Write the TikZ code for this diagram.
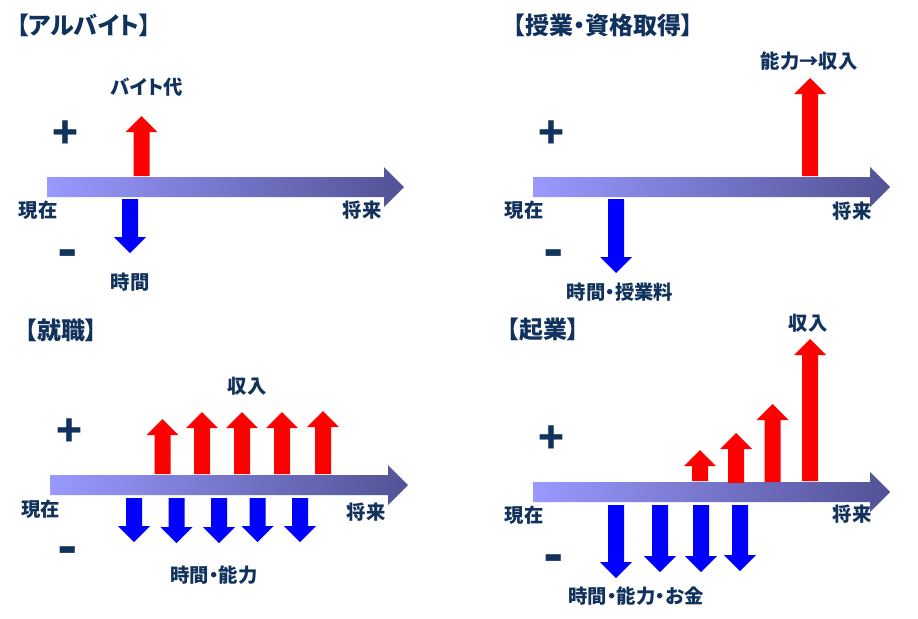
\documentclass[tikz,border=0pt]{standalone}
\usepackage{fontspec}
\setmainfont{Noto Sans CJK JP}[BoldFont={Noto Sans CJK JP Black},RawFeature=+palt]
\definecolor{navy}{RGB}{17,50,92}
\definecolor{axisL}{RGB}{153,153,255}
\definecolor{axisR}{RGB}{82,82,150}
\definecolor{upred}{RGB}{255,0,0}
\definecolor{dnblue}{RGB}{0,0,255}
\tikzset{
  lbl/.style={text=navy,font=\bfseries\fontsize{14.5}{16}\selectfont,inner sep=0pt},
  ttl/.style={text=navy,font=\bfseries\fontsize{18}{20}\selectfont,inner sep=0pt},
  sgn/.style={text=navy,font=\bfseries\fontsize{32}{34}\selectfont,inner sep=0pt},
  msgn/.style={text=navy,font=\bfseries\fontsize{40}{42}\selectfont,inner sep=0pt},
}
% main time axis arrow: x0, y centre, tip x
\newcommand\MainArr[3]{\shade[left color=axisL,right color=axisR]
  (#1,#2-10) -- (#3-20,#2-10) -- (#3-20,#2-20) -- (#3,#2) -- (#3-20,#2+20) -- (#3-20,#2+10) -- (#1,#2+10) -- cycle;}
% up arrow: centre x, bottom y, tip y
\newcommand\UpArr[3]{\fill[upred]
  (#1-8,#2) -- (#1-8,#3+16) -- (#1-16,#3+16) -- (#1,#3) -- (#1+16,#3+16) -- (#1+8,#3+16) -- (#1+8,#2) -- cycle;}
% down arrow: centre x, top y, tip y
\newcommand\DnArr[3]{\fill[dnblue]
  (#1-8,#2) -- (#1-8,#3-16) -- (#1-16,#3-16) -- (#1,#3) -- (#1+16,#3-16) -- (#1+8,#3-16) -- (#1+8,#2) -- cycle;}
\begin{document}
\begin{tikzpicture}[x=0.75pt,y=-0.75pt]
\useasboundingbox[fill=white] (0,0) rectangle (918,618);
% ---------- panel 1 ----------
\node[ttl] (t1) at (84,25) {【アルバイト】};
\MainArr{47}{187}{404}
\UpArr{141.5}{176}{116}
\DnArr{130}{199}{253}
\node[sgn] (p1) at (65,135) {+};
\node[msgn] (m1) at (68,259) {-};
\node[lbl] (a1) at (147,87) {バイト代};
\node[lbl] (n1) at (38,210) {現在};
\node[lbl] (f1) at (362,210) {将来};
\node[lbl] (b1) at (130,282) {時間};
% ---------- panel 2 ----------
\node[ttl] (t2) at (603,25) {【授業・資格取得】};
\MainArr{533}{187}{890}
\UpArr{810}{176}{78}
\DnArr{616}{199}{273}
\node[sgn] (p2) at (551,135) {+};
\node[msgn] (m2) at (554,259) {-};
\node[lbl] (a2) at (809,61) {能力→収入};
\node[lbl] (n2) at (524,210) {現在};
\node[lbl] (f2) at (852,211) {将来};
\node[lbl] (b2) at (620,292) {時間・授業料};
% ---------- panel 3 ----------
\node[ttl] (t3) at (61,330) {【就職】};
\MainArr{50}{485}{408}
\UpArr{162.5}{474}{419}
\UpArr{202}{474}{412}
\UpArr{242}{474}{412}
\UpArr{282}{474}{412}
\UpArr{323}{474}{411}
\DnArr{134}{498}{542}
\DnArr{176.5}{498}{543}
\DnArr{219}{498}{543}
\DnArr{257.5}{498}{542}
\DnArr{300}{498}{542}
\node[sgn] (p3) at (69,433) {+};
\node[msgn] (m3) at (68,556) {-};
\node[lbl] (a3) at (247,386) {収入};
\node[lbl] (n3) at (41,509) {現在};
\node[lbl] (f3) at (366,512) {将来};
\node[lbl] (b3) at (214,575) {時間・能力};
% ---------- panel 4 ----------
\node[ttl] (t4) at (543,330) {【起業】};
\MainArr{533}{492}{890}
\UpArr{700}{481}{450}
\UpArr{736}{483}{433}
\UpArr{772.5}{482}{404}
\UpArr{810}{481}{339}
\DnArr{616}{505}{578}
\DnArr{660}{505}{572}
\DnArr{701}{505}{572}
\DnArr{740}{505}{571}
\node[sgn] (p4) at (551,440) {+};
\node[msgn] (m4) at (554,564) {-};
\node[lbl] (a4) at (808,323) {収入};
\node[lbl] (n4) at (524,515) {現在};
\node[lbl] (f4) at (852,514) {将来};
\node[lbl] (b4) at (636,596) {時間・能力・お金};
\end{tikzpicture}
\end{document}
